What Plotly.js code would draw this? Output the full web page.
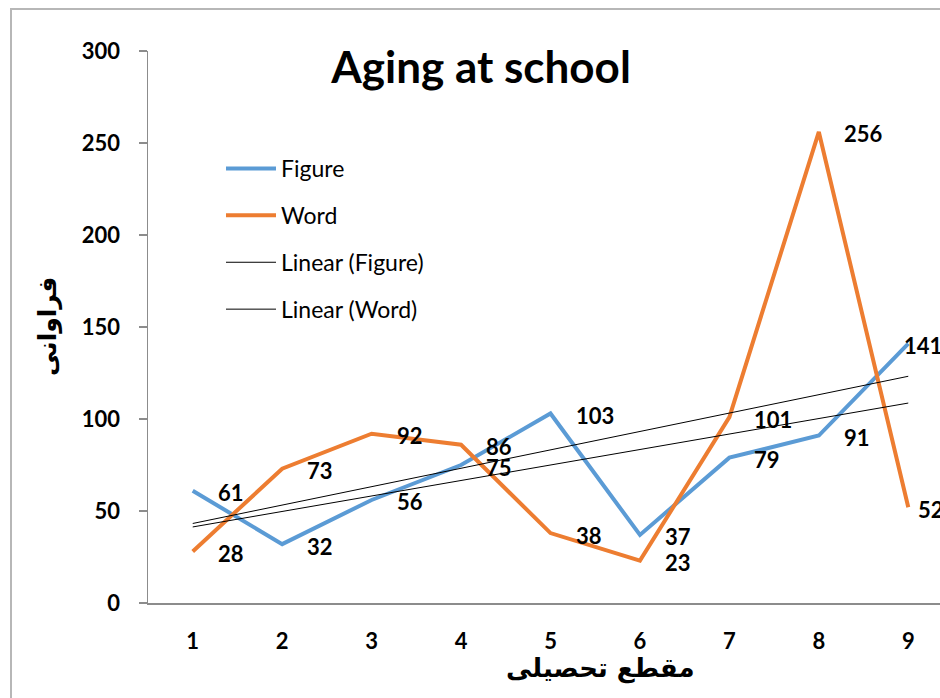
<!DOCTYPE html>
<html>
<head>
<meta charset="utf-8">
<script src="https://cdn.plot.ly/plotly-3.0.1.min.js"></script>
<style>
  html, body { margin: 0; padding: 0; width: 940px; height: 698px; overflow: hidden; background: #fff; }
  #frame { position: absolute; left: 10px; top: 8px; width: 1200px; height: 1000px;
           border-left: 2px solid #b7b7b7; border-top: 2px solid #b7b7b7; }
  #chart { position: absolute; left: 0; top: 0; width: 960px; height: 698px; }
</style>
</head>
<body>
<div id="frame"></div>
<div id="chart"></div>
<script>
const categories = [1, 2, 3, 4, 5, 6, 7, 8, 9];
const figureValues = [61, 32, 56, 75, 103, 37, 79, 91, 141];
const wordValues = [28, 73, 92, 86, 38, 23, 101, 256, 52];
const yTickValues = [0, 50, 100, 150, 200, 250, 300];

const FONT = 'Lato, "DejaVu Sans", sans-serif';
const ARFONT = '"DejaVu Sans", sans-serif';

function linearFit(xs, ys) {
  const n = xs.length;
  const mx = xs.reduce((a, b) => a + b, 0) / n;
  const my = ys.reduce((a, b) => a + b, 0) / n;
  let sxy = 0, sxx = 0;
  for (let i = 0; i < n; i++) { sxy += (xs[i] - mx) * (ys[i] - my); sxx += (xs[i] - mx) ** 2; }
  const slope = sxy / sxx;
  const icpt = my - slope * mx;
  return xs.map(x => icpt + slope * x);
}

const traces = [
  { x: categories, y: figureValues, name: 'Figure', mode: 'lines', legendgroup: 'a',
    line: { color: '#5B9BD5', width: 4 } },
  { x: categories, y: wordValues, name: 'Word', mode: 'lines', legendgroup: 'b',
    line: { color: '#ED7D31', width: 4 } },
  { x: categories, y: linearFit(categories, figureValues), name: 'Linear (Figure)', mode: 'lines', legendgroup: 'c',
    line: { color: '#000000', width: 1 } },
  { x: categories, y: linearFit(categories, wordValues), name: 'Linear (Word)', mode: 'lines', legendgroup: 'd',
    line: { color: '#000000', width: 1 } }
];

const annotations = [];
const lastIdx = categories.length - 1;
[[figureValues, -6], [wordValues, 8]].forEach(([vals, lastShift]) => {
  vals.forEach((v, i) => {
    annotations.push({ x: categories[i], y: v, xref: 'x', yref: 'y', text: '<b>' + v + '</b>',
      showarrow: false, xanchor: 'left', yanchor: 'middle',
      xshift: i === lastIdx ? lastShift : 23, yshift: -2,
      font: { family: FONT, size: 22, color: '#000' } });
  });
});
annotations.push({ xref: 'paper', yref: 'paper', x: (600 - 148) / 805, y: -(668 - 603) / 552,
  text: '<b>مقطع تحصیلی</b>', showarrow: false, xanchor: 'center', yanchor: 'middle',
  font: { family: ARFONT, size: 26, color: '#000' } });
annotations.push({ xref: 'paper', yref: 'paper', x: -(148 - 48) / 805, y: (603 - 327) / 552,
  text: '<b>فراوانی</b>', showarrow: false, xanchor: 'center', yanchor: 'middle', textangle: -90,
  font: { family: ARFONT, size: 25, color: '#000' } });

const layout = {
  width: 960, height: 698,
  margin: { l: 148, r: 7, t: 51, b: 95 },
  paper_bgcolor: 'rgba(0,0,0,0)', plot_bgcolor: 'rgba(0,0,0,0)',
  title: { text: '<b>Aging at school</b>', xref: 'container', yref: 'container',
    x: 481 / 960, y: 1 - 68 / 698, xanchor: 'center', yanchor: 'middle',
    font: { family: FONT, size: 44, color: '#000' } },
  xaxis: { range: [0.5, 9.5], tickvals: categories, ticktext: categories.map(c => '<b>' + c + '</b>'),
    showgrid: false, zeroline: false, showline: true, linecolor: '#8c8c8c', linewidth: 1.5,
    ticks: '', ticklabelstandoff: 18, tickfont: { family: FONT, size: 22, color: '#000' } },
  yaxis: { range: [0, 300], tickvals: yTickValues, ticktext: yTickValues.map(v => '<b>' + v + '</b>'),
    showgrid: false, zeroline: false,
    showline: true, linecolor: '#8c8c8c', linewidth: 1.5, ticks: 'outside', ticklen: 8,
    tickcolor: '#8c8c8c', tickwidth: 1.5, ticklabelstandoff: 14,
    tickfont: { family: FONT, size: 22, color: '#000' } },
  showlegend: true,
  legend: { x: (221 - 148) / 805, y: (603 - 147) / 552, xanchor: 'left', yanchor: 'top',
    bgcolor: 'rgba(0,0,0,0)', tracegroupgap: 14, itemwidth: 50,
    font: { family: FONT, size: 23, color: '#000' } },
  annotations: annotations
};

Plotly.newPlot('chart', traces, layout, { displayModeBar: false, staticPlot: true });
</script>
</body>
</html>
